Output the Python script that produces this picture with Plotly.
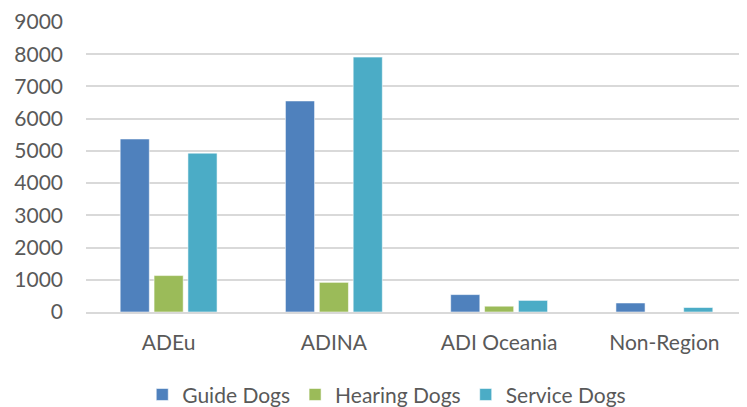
import plotly.graph_objects as go

categories = ["ADEu", "ADINA", "ADI Oceania", "Non-Region"]
guide_dogs = [5370, 6550, 540, 280]
hearing_dogs = [1130, 920, 180, 0]
service_dogs = [4930, 7910, 360, 140]

series_names = ["Guide Dogs", "Hearing Dogs", "Service Dogs"]
series_colors = ["#4f81bd", "#9bbb59", "#4bacc6"]
y_ticks = [0, 1000, 2000, 3000, 4000, 5000, 6000, 7000, 8000, 9000]

FONT = "Lato"
FS = 21
fig = go.Figure()
for name, vals, col in zip(series_names, [guide_dogs, hearing_dogs, service_dogs], series_colors):
    fig.add_trace(go.Bar(
        x=categories, y=vals, name=name,
        marker=dict(color=col, line=dict(color="rgba(255,255,255,0.55)", width=1)),
    ))

# page body has an 8px margin, so the figure is 739x399 placed at (8, 8)
fig.update_layout(
    width=739, height=399,
    margin=dict(l=78, r=0, t=14, b=95, autoexpand=False),
    paper_bgcolor="white", plot_bgcolor="white",
    barmode="group", bargap=0.385, bargroupgap=0.14,
    font=dict(family=FONT, size=FS, color="#595959"),
    showlegend=True,
    legend=dict(orientation="h", x=0.455, xanchor="center", y=-0.2856, yanchor="middle",
                font=dict(family=FONT, size=FS, color="#595959"), itemwidth=30,
                traceorder="normal"),
    xaxis=dict(showgrid=False, showline=True, linecolor="#d9d9d9", linewidth=1.5,
               ticks="", ticklabelstandoff=11, tickfont=dict(size=FS, color="#595959")),
    yaxis=dict(range=[0, 9000], tickvals=y_ticks, showgrid=True, gridcolor="#d9d9d9",
               gridwidth=1.5, zeroline=False, showline=False, ticks="",
               ticklabelstandoff=22, tickfont=dict(size=FS, color="#595959")),
)
fig.write_html("out.html")
